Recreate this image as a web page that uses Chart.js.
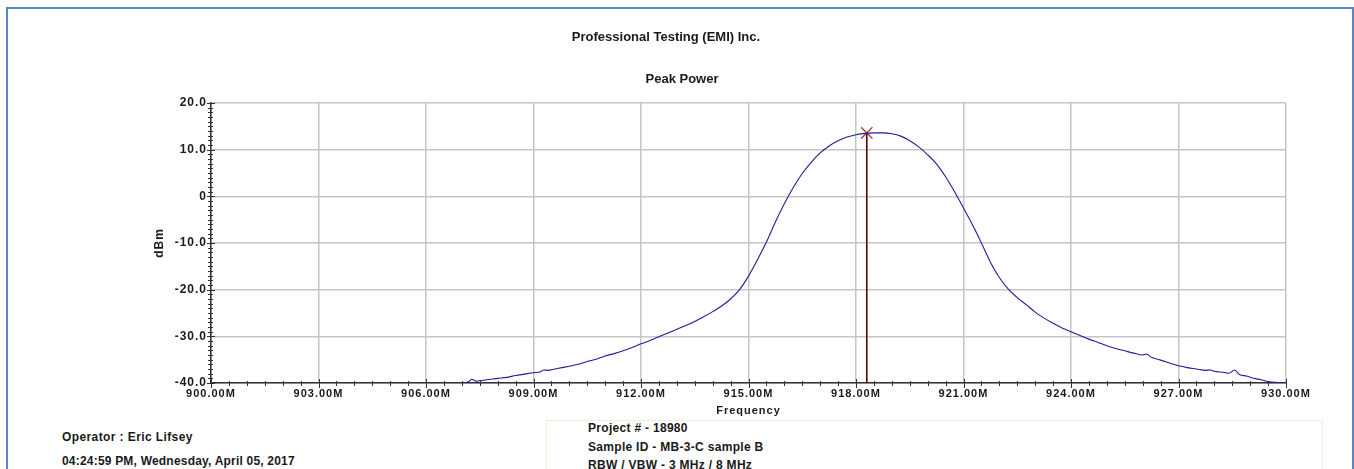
<!DOCTYPE html>
<html>
<head>
<meta charset="utf-8">
<title>Peak Power</title>
<script src="https://cdn.jsdelivr.net/npm/chart.js@4.4.0/dist/chart.umd.min.js"></script>
<style>
    html, body { margin: 0; padding: 0; background: #fff; overflow: hidden; }
    body { width: 1354px; height: 469px; position: relative; font-family: Arial, "Liberation Sans", sans-serif; font-weight: bold; color: #1a1a1a; }
    #frame { position: absolute; left: 6px; top: 7px; width: 1348px; height: 520px; box-sizing: border-box; border: 2px solid #5b87c9; }
    #chart { position: absolute; left: 0; top: 0; }
    .txt { position: absolute; white-space: nowrap; font-size: 13px; line-height: 16px; }
    .ctr { text-align: center; width: 400px; }
    #info { position: absolute; left: 546px; top: 420px; width: 777px; height: 80px; box-sizing: border-box; border: 1px solid #f4eedd; }
</style>
</head>
<body>
<div id="frame"></div>
<canvas id="chart" width="1354" height="418"></canvas>
<div class="txt ctr" style="left:466px; top:29px;">Professional Testing (EMI) Inc.</div>
<div class="txt ctr" style="left:482px; top:71px;">Peak Power</div>
<div class="txt" style="left:62px; top:429px; font-size:12px; letter-spacing:0.4px;">Operator : Eric Lifsey</div>
<div class="txt" style="left:62px; top:453px; font-size:12px; letter-spacing:0.2px;">04:24:59 PM, Wednesday, April 05, 2017</div>
<div id="info"></div>
<div class="txt" style="left:588px; top:420px; font-size:12px; letter-spacing:0.3px;">Project # - 18980</div>
<div class="txt" style="left:588px; top:439px; font-size:12px; letter-spacing:0.3px;">Sample ID - MB-3-C sample B</div>
<div class="txt" style="left:588px; top:457px; font-size:12px; letter-spacing:0.3px;">RBW / VBW - 3 MHz / 8 MHz</div>

<script>
// trace (MHz / dBm)
const freqMHz = [
    907.00, 907.20, 907.28, 907.40, 907.60, 907.80, 908.00, 908.25, 908.50, 908.75,
    909.00, 909.20, 909.28, 909.40, 909.60, 909.80, 910.00, 910.25, 910.50, 910.75,
    911.00, 911.25, 911.50, 911.75, 912.00, 912.25, 912.50, 912.75, 913.00, 913.25,
    913.50, 913.75, 914.00, 914.25, 914.50, 914.75, 915.00, 915.25, 915.50, 915.75,
    916.00, 916.25, 916.50, 916.75, 917.00, 917.25, 917.50, 917.75, 918.00, 918.25,
    918.50, 918.75, 919.00, 919.25, 919.50, 919.75, 920.00, 920.25, 920.50, 920.75,
    921.00, 921.25, 921.50, 921.75, 922.00, 922.25, 922.50, 922.75, 923.00, 923.25,
    923.50, 923.75, 924.00, 924.25, 924.50, 924.75, 925.00, 925.25, 925.50, 925.75,
    926.00, 926.10, 926.25, 926.50, 926.75, 927.00, 927.25, 927.50, 927.75, 927.90,
    928.00, 928.25, 928.40, 928.57, 928.70, 928.90, 929.10, 929.30, 929.50, 929.75,
    930.00
];
const levelDbm = [
    -40.0, -39.7, -39.2, -39.6, -39.4, -39.2, -39.0, -38.8, -38.4, -38.1,
    -37.8, -37.6, -37.2, -37.3, -37.0, -36.7, -36.4, -36.0, -35.4, -34.9,
    -34.2, -33.7, -33.1, -32.4, -31.6, -30.9, -30.1, -29.3, -28.5, -27.7,
    -26.8, -25.8, -24.7, -23.5, -22.0, -20.0, -17.1, -13.6, -9.8, -5.5,
    -1.6, 1.9, 4.9, 7.3, 9.3, 10.8, 11.9, 12.7, 13.2, 13.5,
    13.6, 13.6, 13.4, 12.9, 11.9, 10.6, 8.9, 6.9, 4.2, 1.0,
    -2.5, -6.1, -10.0, -14.1, -17.4, -19.9, -21.7, -23.2, -24.8, -26.1,
    -27.2, -28.2, -29.0, -29.8, -30.6, -31.3, -32.0, -32.6, -33.1, -33.6,
    -34.0, -33.8, -34.5, -35.1, -35.7, -36.3, -36.7, -37.0, -37.3, -37.2,
    -37.5, -37.7, -37.9, -37.2, -38.2, -38.5, -39.0, -39.3, -39.7, -39.9,
    -40.0
];

// peak marker
const markerFreq = [918.30];
const markerLevel = [13.6];

const xTicks = [900, 903, 906, 909, 912, 915, 918, 921, 924, 927, 930];
const yTicks = [20, 10, 0, -10, -20, -30, -40];

const trace = freqMHz.map((f, i) => ({ x: f, y: levelDbm[i] }));
const markerPoint = [{ x: markerFreq[0], y: markerLevel[0] }];
const markerDrop = [{ x: markerFreq[0], y: markerLevel[0] }, { x: markerFreq[0], y: yTicks[yTicks.length - 1] }];

Chart.defaults.font.family = 'Arial, "Liberation Sans", sans-serif';

// spread the canvas text a bit like the original report
const spacing = {
    id: 'spacing',
    beforeUpdate(chart) { chart.ctx.letterSpacing = '1px'; },
    beforeDraw(chart) { chart.ctx.letterSpacing = '1px'; }
};

// small tick marks crossing both axes
const axisTicks = {
    id: 'axisTicks',
    beforeDatasetsDraw(chart) {
        const ctx = chart.ctx;
        const xs = chart.scales.x, ys = chart.scales.y;
        const area = chart.chartArea;
        ctx.save();
        ctx.strokeStyle = '#333';
        ctx.lineWidth = 1;
        ctx.beginPath();
        for (let f = xs.min; f <= xs.max + 0.001; f += 0.5) {
            const px = Math.round(xs.getPixelForValue(f)) + 0.5;
            const major = xTicks.some(t => Math.abs(t - f) < 0.01);
            ctx.moveTo(px, area.bottom - (major ? 4 : 2));
            ctx.lineTo(px, area.bottom + (major ? 5 : 3));
        }
        for (let v = ys.min; v <= ys.max + 0.001; v += 1) {
            const py = Math.round(ys.getPixelForValue(v)) + 0.5;
            const major = yTicks.indexOf(v) >= 0;
            ctx.moveTo(area.left - (major ? 4 : 3), py);
            ctx.lineTo(area.left + (major ? 4 : 2), py);
        }
        ctx.stroke();
        ctx.restore();
    }
};

new Chart(document.getElementById('chart'), {
    type: 'line',
    data: {
        datasets: [{
            data: trace,
            borderColor: '#1f1f95',
            borderWidth: 1.1,
            pointRadius: 0,
            cubicInterpolationMode: 'monotone'
        }, {
            data: markerDrop,
            borderColor: '#5a0000',
            borderWidth: 1,
            pointRadius: 0
        }, {
            data: markerPoint,
            showLine: false,
            pointStyle: 'crossRot',
            pointRadius: 8,
            borderColor: '#b04848',
            borderWidth: 1.5
        }]
    },
    options: {
        responsive: false,
        animation: false,
        layout: { padding: { left: 145, top: 103, right: 68, bottom: 0 } },
        plugins: {
            legend: { display: false },
            tooltip: { enabled: false }
        },
        scales: {
            x: {
                type: 'linear',
                min: xTicks[0],
                max: xTicks[xTicks.length - 1],
                afterBuildTicks: s => { s.ticks = xTicks.map(v => ({ value: v })); },
                afterFit: s => { s.height = 35; },
                ticks: {
                    autoSkip: false,
                    maxRotation: 0,
                    padding: 4,
                    color: '#1a1a1a',
                    font: { size: 11, weight: 'bold' },
                    callback: v => v.toFixed(2) + 'M'
                },
                grid: { color: '#c6c6c6', lineWidth: 1.5, drawTicks: false },
                border: { color: '#333', width: 1.5 },
                title: {
                    display: true,
                    text: 'Frequency',
                    color: '#1a1a1a',
                    font: { size: 11, weight: 'bold' },
                    padding: { top: 2, bottom: 0 }
                }
            },
            y: {
                min: yTicks[yTicks.length - 1],
                max: yTicks[0],
                afterBuildTicks: s => { s.ticks = yTicks.slice().reverse().map(v => ({ value: v })); },
                afterFit: s => { s.width = 66; },
                ticks: {
                    padding: 4,
                    color: '#1a1a1a',
                    font: { size: 12, weight: 'bold' },
                    callback: v => v === 0 ? '0' : v.toFixed(1)
                },
                grid: { color: '#c6c6c6', lineWidth: 1.5, drawTicks: false },
                border: { color: '#333', width: 1.5 },
                title: {
                    display: true,
                    text: 'dBm',
                    color: '#1a1a1a',
                    font: { size: 12, weight: 'bold' },
                    padding: { top: 7, bottom: 0 }
                }
            }
        }
    },
    plugins: [spacing, axisTicks]
});
</script>
</body>
</html>
